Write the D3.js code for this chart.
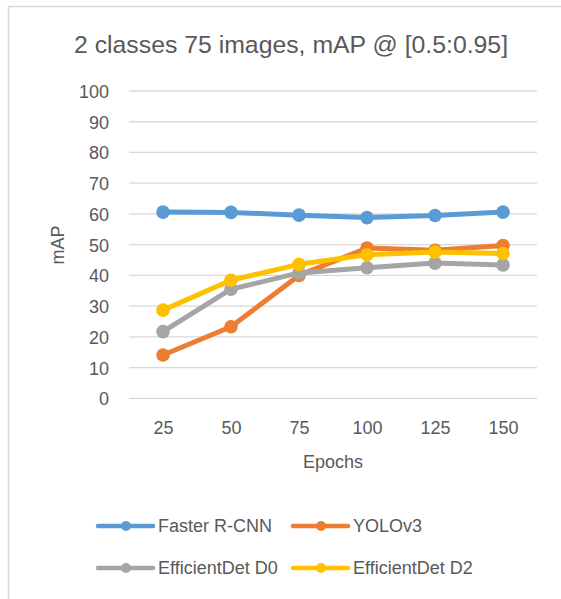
<!DOCTYPE html>
<html><head><meta charset="utf-8">
<script src="https://cdn.jsdelivr.net/npm/d3@7"></script>
<style>body{margin:0;background:#fff;} svg{display:block;}</style>
</head><body>
<svg id="c" width="561" height="599"></svg>
<script>
const categories = [25, 50, 75, 100, 125, 150];
const fasterRCNN = [60.6, 60.5, 59.6, 58.8, 59.5, 60.6];
const yolov3 = [14.1, 23.3, 40.0, 48.9, 48.2, 49.7];
const effD0 = [21.7, 35.5, 40.8, 42.5, 44.0, 43.4];
const effD2 = [28.7, 38.4, 43.6, 46.7, 47.6, 47.1];
const yTicks = [0, 10, 20, 30, 40, 50, 60, 70, 80, 90, 100];
const seriesNames = ["Faster R-CNN", "YOLOv3", "EfficientDet D0", "EfficientDet D2"];
const colors = ["#5B9BD5", "#ED7D31", "#A5A5A5", "#FFC000"];
const series = [fasterRCNN, yolov3, effD0, effD2];

(function () {
const font = "'Liberation Sans', Arial, sans-serif";
const txt = "#595959";
const fs = 18;
const svg = d3.select("#c");

svg.append("rect").attr("x", 8.5).attr("y", 6.5).attr("width", 700).attr("height", 700)
  .attr("fill", "#fff").attr("stroke", "#D9D9D9").attr("stroke-width", 1.5);

const pLeft = 129, pRight = 537, pTop = 91, pBottom = 398.3;
const x = d3.scalePoint().domain(categories).range([pLeft, pRight]).padding(0.5);
const y = d3.scaleLinear().domain([0, 100]).range([pBottom, pTop]);

svg.append("g").selectAll("line").data(yTicks).join("line")
  .attr("x1", pLeft).attr("x2", pRight)
  .attr("y1", d => y(d)).attr("y2", d => y(d))
  .attr("stroke", "#D9D9D9").attr("stroke-width", 1.3);

const yAxis = d3.axisLeft(y).tickValues(yTicks).tickSize(0).tickPadding(0);
const gy = svg.append("g").attr("transform", `translate(${109},0)`).call(yAxis);
gy.select(".domain").remove();
gy.selectAll("text").attr("font-family", font).attr("font-size", fs).attr("fill", txt).attr("dy", "0.36em");

const xAxis = d3.axisBottom(x).tickSize(0).tickPadding(0);
const gx = svg.append("g").attr("transform", `translate(0,${433.5})`).call(xAxis);
gx.select(".domain").remove();
gx.selectAll("text").attr("font-family", font).attr("font-size", fs).attr("fill", txt).attr("dy", 0);

svg.append("text").attr("x", 291).attr("y", 52.5).attr("text-anchor", "middle")
  .attr("font-family", font).attr("font-size", 24.8).attr("fill", txt)
  .text("2 classes 75 images, mAP @ [0.5:0.95]");
svg.append("text").attr("x", 333).attr("y", 468).attr("text-anchor", "middle")
  .attr("font-family", font).attr("font-size", fs).attr("fill", txt).text("Epochs");
svg.append("text").attr("transform", "translate(64,245) rotate(-90)").attr("text-anchor", "middle")
  .attr("font-family", font).attr("font-size", fs).attr("fill", txt).text("mAP");

const line = d3.line().x((d, i) => x(categories[i])).y(d => y(d));
series.forEach((s, k) => {
  const g = svg.append("g");
  g.append("path").datum(s).attr("d", line).attr("fill", "none")
    .attr("stroke", colors[k]).attr("stroke-width", 5).attr("stroke-linejoin", "round").attr("stroke-linecap", "round");
  g.selectAll("circle").data(s).join("circle")
    .attr("cx", (d, i) => x(categories[i])).attr("cy", d => y(d)).attr("r", 6.8)
    .attr("fill", colors[k]);
});

const legPos = [[98, 526], [293, 526], [98, 568], [293, 568]];
seriesNames.forEach((n, k) => {
  const [lx, ly] = legPos[k];
  const g = svg.append("g");
  g.append("line").attr("x1", lx).attr("x2", lx + 55).attr("y1", ly).attr("y2", ly)
    .attr("stroke", colors[k]).attr("stroke-width", 4.5).attr("stroke-linecap", "round");
  g.append("circle").attr("cx", lx + 28).attr("cy", ly).attr("r", 5).attr("fill", colors[k]);
  g.append("text").attr("x", lx + 60).attr("y", ly).attr("dy", "0.36em")
    .attr("font-family", font).attr("font-size", fs).attr("fill", txt).text(n);
});
})();
</script>
</body></html>
